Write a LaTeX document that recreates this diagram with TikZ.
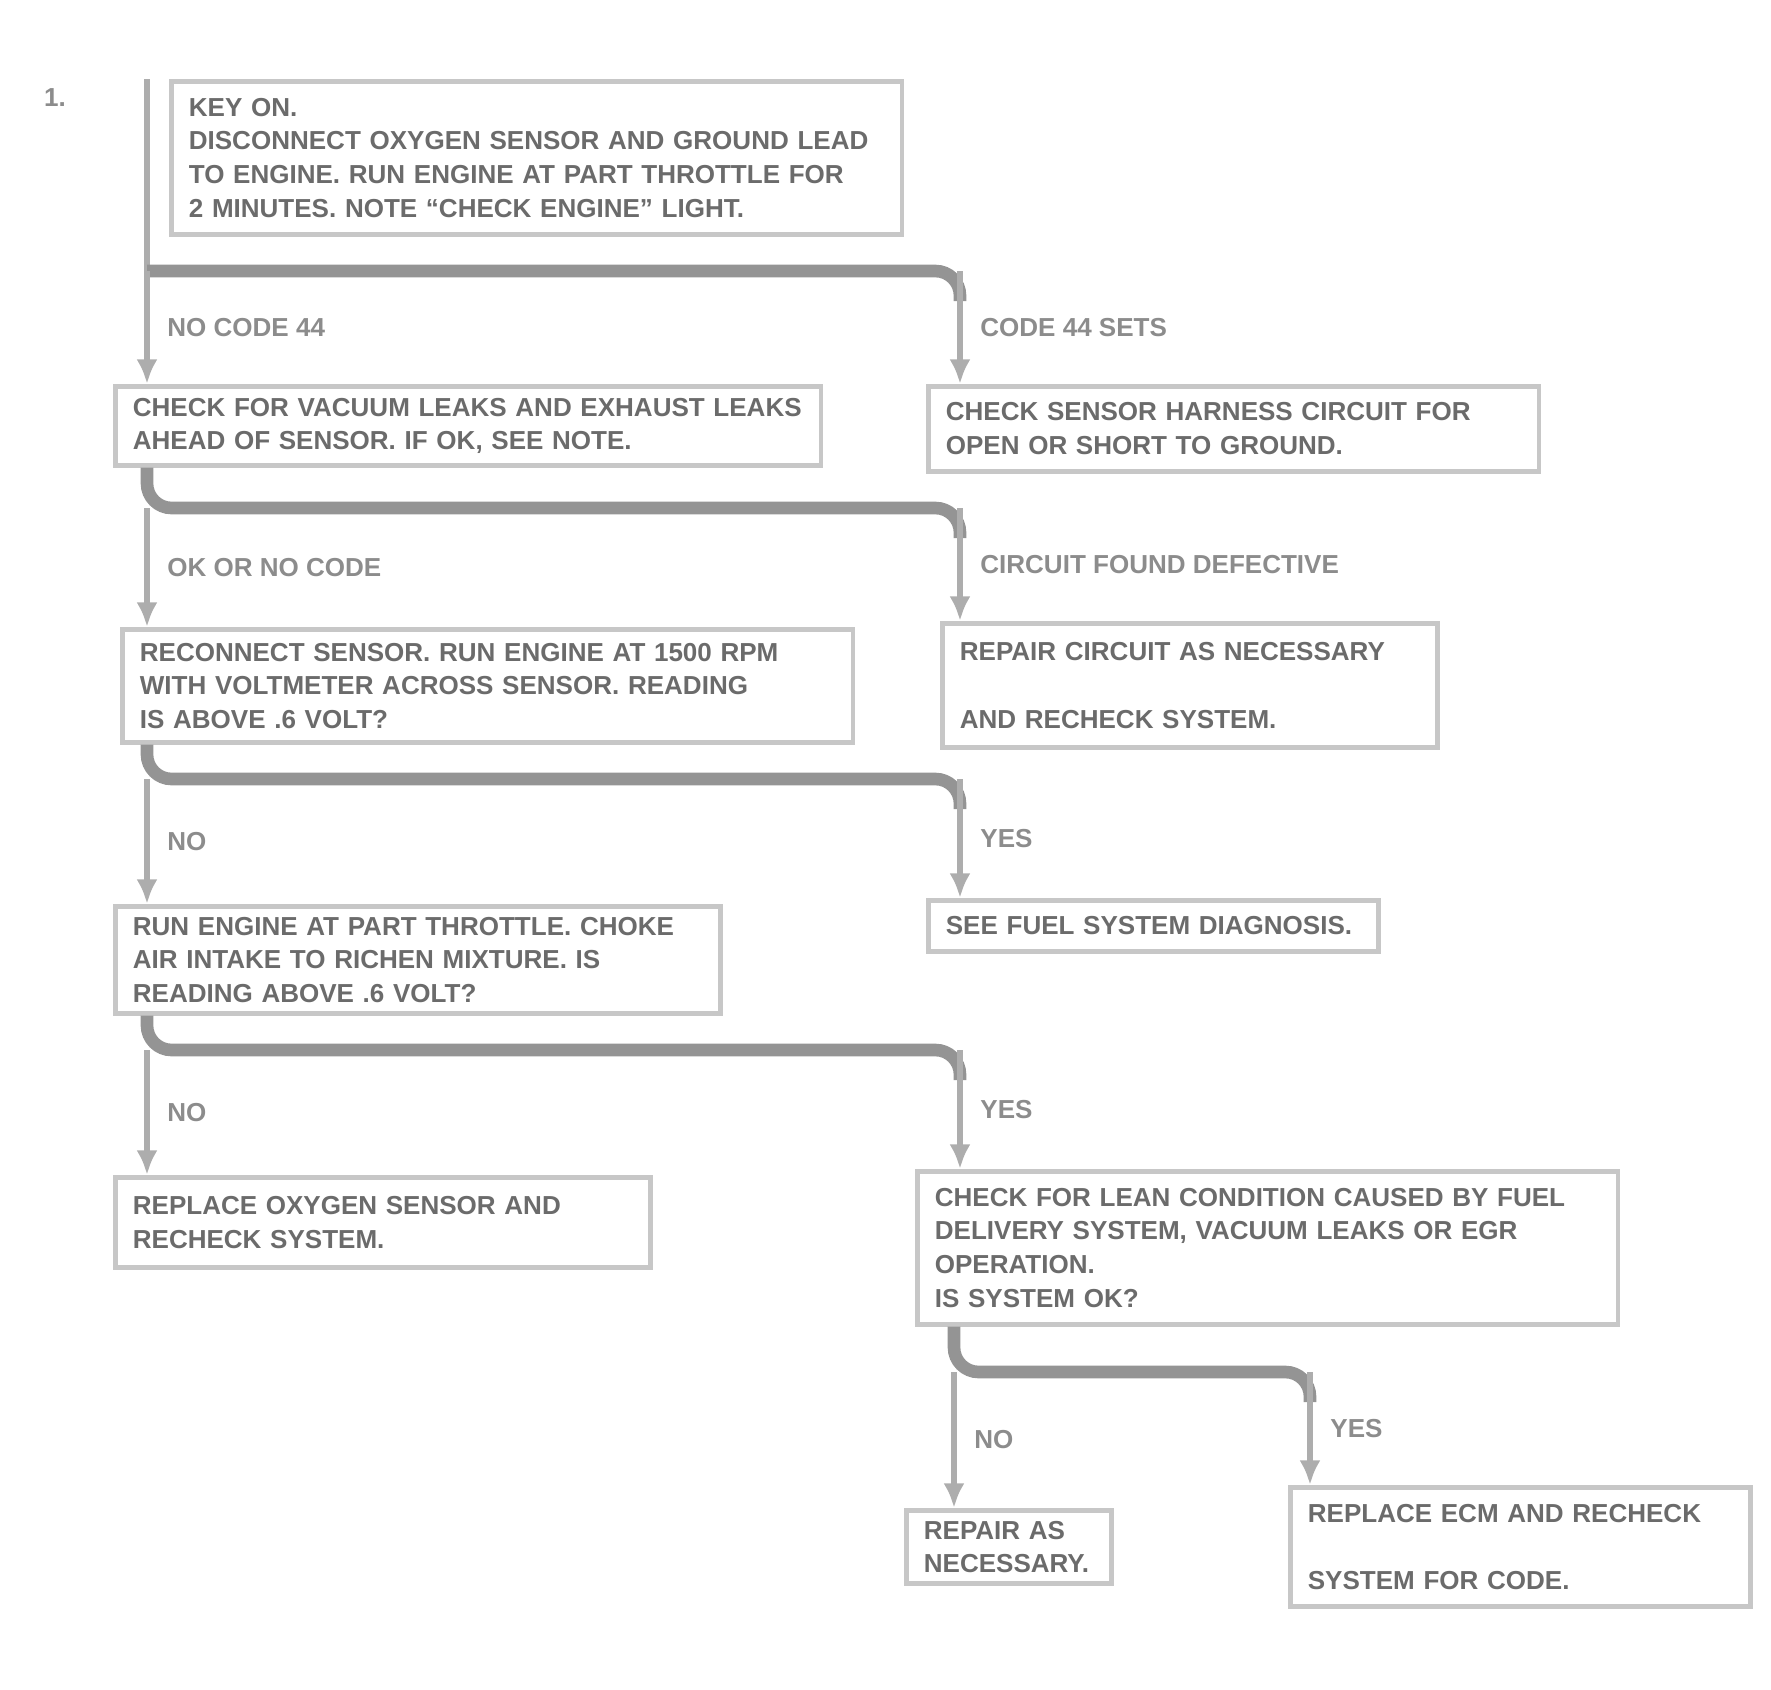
\documentclass[tikz,border=0pt]{standalone}
\usepackage{fontspec}
\setmainfont{Liberation Sans}
\usetikzlibrary{arrows.meta}

\tikzset{
  chart/.style={draw=black!22, line width=1.3pt, inner xsep=5pt, inner ysep=3pt,
    anchor=north west, align=left, text=black!58,
    font=\bfseries\fontsize{7.4}{9.6}\selectfont},
  answer/.style={text=black!45, inner sep=1pt, font=\bfseries\fontsize{7.4}{9}\selectfont},
  bar/.style={draw=black!42, line width=3.6pt, rounded corners=7pt},
  feed/.style={draw=black!32, line width=1.6pt, -{Latex[length=7pt,width=6pt]}},
}

\begin{document}
\begin{tikzpicture}[x=0.01cm, y=-0.01cm]
\useasboundingbox (0,0) rectangle (1771,1690);

% first test
\node[answer, anchor=north west] (num) at (40,84) {1.};
\node[chart, text width=6.95cm, minimum height=1.53cm] (top) at (169,79)
  {KEY ON.\\
   DISCONNECT OXYGEN SENSOR AND GROUND LEAD\\
   TO ENGINE. RUN ENGINE AT PART THROTTLE FOR\\
   2 MINUTES. NOTE ``CHECK ENGINE'' LIGHT.};

\coordinate (j1) at (147,271);  \coordinate (c1) at (960,271);
\coordinate (j2) at (147,508);  \coordinate (c2) at (960,508);
\coordinate (j3) at (147,779);  \coordinate (c3) at (960,779);
\coordinate (j4) at (147,1050); \coordinate (c4) at (960,1050);
\coordinate (j5) at (954,1372); \coordinate (c5) at (1310,1372);

% left column
\node[chart, text width=6.7cm, minimum height=0.79cm] (bA) at (113,384)
  {CHECK FOR VACUUM LEAKS AND EXHAUST LEAKS\\
   AHEAD OF SENSOR. IF OK, SEE NOTE.};
\node[chart, text width=6.95cm, minimum height=1.13cm] (bB) at (120,627)
  {RECONNECT SENSOR. RUN ENGINE AT 1500 RPM\\
   WITH VOLTMETER ACROSS SENSOR. READING\\
   IS ABOVE .6 VOLT?};
\node[chart, text width=5.7cm, minimum height=1.07cm] (bC) at (113,904)
  {RUN ENGINE AT PART THROTTLE. CHOKE\\
   AIR INTAKE TO RICHEN MIXTURE. IS\\
   READING ABOVE .6 VOLT?};
\node[chart, text width=5cm, minimum height=0.9cm] (bD) at (113,1175)
  {REPLACE OXYGEN SENSOR AND\\
   RECHECK SYSTEM.};

% right column
\node[chart, text width=5.75cm, minimum height=0.85cm] (rA) at (926,384)
  {CHECK SENSOR HARNESS CIRCUIT FOR\\
   OPEN OR SHORT TO GROUND.};
\node[chart, text width=4.6cm, minimum height=1.24cm] (rB) at (940,621)
  {REPAIR CIRCUIT AS NECESSARY\\[9.6pt]
   AND RECHECK SYSTEM.};
\node[chart, text width=4.15cm, minimum height=0.51cm] (rC) at (926,898)
  {SEE FUEL SYSTEM DIAGNOSIS.};
\node[chart, text width=6.65cm, minimum height=1.53cm] (rD) at (915,1169)
  {CHECK FOR LEAN CONDITION CAUSED BY FUEL\\
   DELIVERY SYSTEM, VACUUM LEAKS OR EGR\\
   OPERATION.\\
   IS SYSTEM OK?};
\node[chart, text width=1.7cm, minimum height=0.68cm] (rE) at (904,1508)
  {REPAIR AS\\ NECESSARY.};
\node[chart, text width=4.25cm, minimum height=1.19cm] (rF) at (1288,1485)
  {REPLACE ECM AND RECHECK\\[9.6pt]
   SYSTEM FOR CODE.};

% splits
\draw[feed, -] (top.north -| j1) -- (j1);
\draw[bar] (j1) -- (c1) -- ++(0,30);
\draw[bar] (bA.south -| j2) -- (j2) -- (c2) -- ++(0,30);
\draw[bar] (bB.south -| j3) -- (j3) -- (c3) -- ++(0,30);
\draw[bar] (bC.south -| j4) -- (j4) -- (c4) -- ++(0,30);
\draw[bar] (rD.south -| j5) -- (j5) -- (c5) -- ++(0,30);

% answers
\draw[feed] (j1) -- (bA.north -| j1) node[answer, pos=.5, right=4pt] (nA) {NO CODE 44};
\draw[feed] (c1) -- (rA.north -| c1) node[answer, pos=.5, right=4pt] (yA) {CODE 44 SETS};
\draw[feed] (j2) -- (bB.north -| j2) node[answer, pos=.5, right=4pt] (nB) {OK OR NO CODE};
\draw[feed] (c2) -- (rB.north -| c2) node[answer, pos=.5, right=4pt] (yB) {CIRCUIT FOUND DEFECTIVE};
\draw[feed] (j3) -- (bC.north -| j3) node[answer, pos=.5, right=4pt] (nC) {NO};
\draw[feed] (c3) -- (rC.north -| c3) node[answer, pos=.5, right=4pt] (yC) {YES};
\draw[feed] (j4) -- (bD.north -| j4) node[answer, pos=.5, right=4pt] (nD) {NO};
\draw[feed] (c4) -- (rD.north -| c4) node[answer, pos=.5, right=4pt] (yD) {YES};
\draw[feed] (j5) -- (rE.north -| j5) node[answer, pos=.5, right=4pt] (nE) {NO};
\draw[feed] (c5) -- (rF.north -| c5) node[answer, pos=.5, right=4pt] (yE) {YES};

\end{tikzpicture}
\end{document}
